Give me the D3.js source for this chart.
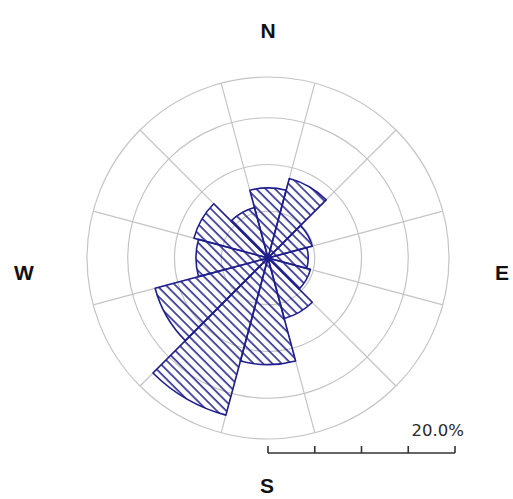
<!DOCTYPE html>
<html>
<head>
<meta charset="utf-8">
<script src="https://cdn.jsdelivr.net/npm/d3@7"></script>
<style>
  html, body { margin: 0; padding: 0; background: #ffffff; }
  svg { display: block; }
</style>
</head>
<body>
<div id="chart"></div>
<script>
// Direction sectors (degrees clockwise from north) and frequency (%)
const directions = [0, 30, 60, 90, 120, 150, 180, 210, 240, 270, 300, 330];
const frequencies = [7.5, 8.8, 4.9, 4.3, 4.7, 6.7, 11.4, 17.4, 12.5, 7.7, 8.2, 5.6];
const ringValues = [5, 10, 15];
const scaleTicks = [0, 5, 10, 15, 20];
const scaleLabel = "20.0%";
const compassLabels = ["N", "E", "S", "W"];

const width = 513, height = 499;
const cx = 268, cy = 258;
const frameRadius = 181;
const sectorWidth = 30;
const navy = "#1e1e8c";
const gridColor = "#c4c4c4";

const svg = d3.select("#chart").append("svg")
  .attr("width", width).attr("height", height);

const r = d3.scaleLinear().domain([0, 20]).range([0, 187]);
const toRad = d => d * Math.PI / 180;

// hatch pattern
const defs = svg.append("defs");
const pat = defs.append("pattern")
  .attr("id", "hatch")
  .attr("patternUnits", "userSpaceOnUse")
  .attr("width", 6.6).attr("height", 10)
  .attr("patternTransform", "rotate(-45)");
pat.append("line")
  .attr("x1", 1).attr("y1", 0).attr("x2", 1).attr("y2", 10)
  .attr("stroke", navy).attr("stroke-width", 1.5);

const g = svg.append("g").attr("transform", `translate(${cx},${cy})`);

// grid rings
g.selectAll("circle.ring").data(ringValues).join("circle")
  .attr("class", "ring")
  .attr("r", d => r(d))
  .attr("fill", "none").attr("stroke", gridColor).attr("stroke-width", 1.2);
g.append("circle").attr("r", frameRadius)
  .attr("fill", "none").attr("stroke", gridColor).attr("stroke-width", 1.2);

// spokes at sector boundaries
const spokeAngles = directions.map(d => d + sectorWidth / 2);
g.selectAll("line.spoke").data(spokeAngles).join("line")
  .attr("class", "spoke")
  .attr("x1", d => r(ringValues[0]) * Math.sin(toRad(d)))
  .attr("y1", d => -r(ringValues[0]) * Math.cos(toRad(d)))
  .attr("x2", d => frameRadius * Math.sin(toRad(d)))
  .attr("y2", d => -frameRadius * Math.cos(toRad(d)))
  .attr("stroke", gridColor).attr("stroke-width", 1.2);

// bars
const arc = d3.arc()
  .innerRadius(0)
  .outerRadius(d => r(d.v))
  .startAngle(d => toRad(d.dir - sectorWidth / 2))
  .endAngle(d => toRad(d.dir + sectorWidth / 2));

const bars = directions.map((dir, i) => ({ dir, v: frequencies[i] }));
g.selectAll("path.bar").data(bars).join("path")
  .attr("class", "bar")
  .attr("d", arc)
  .attr("fill", "url(#hatch)")
  .attr("stroke", navy).attr("stroke-width", 1.6)
  .attr("stroke-linejoin", "round");

g.append("circle").attr("r", 3.2).attr("fill", navy);

// compass labels
const labelPos = {
  N: [268, 38], E: [502, 280], S: [267, 493], W: [24, 280]
};
svg.selectAll("text.compass").data(compassLabels).join("text")
  .attr("class", "compass")
  .attr("x", d => labelPos[d][0])
  .attr("y", d => labelPos[d][1])
  .attr("text-anchor", "middle")
  .attr("font-family", "Liberation Sans, Arial, sans-serif")
  .attr("font-weight", "bold")
  .attr("font-size", 21)
  .attr("fill", "#111")
  .text(d => d);

// scale bar
const sb = svg.append("g").attr("transform", `translate(${cx},453)`);
sb.append("line")
  .attr("x1", r(scaleTicks[0])).attr("x2", r(scaleTicks[scaleTicks.length - 1]))
  .attr("y1", 0).attr("y2", 0)
  .attr("stroke", "#333").attr("stroke-width", 1.6);
sb.selectAll("line.tick").data(scaleTicks).join("line")
  .attr("class", "tick")
  .attr("x1", d => r(d)).attr("x2", d => r(d))
  .attr("y1", 0).attr("y2", -7)
  .attr("stroke", "#333").attr("stroke-width", 1.6);
sb.append("text")
  .attr("x", r(scaleTicks[scaleTicks.length - 1]) + 9)
  .attr("y", -17)
  .attr("text-anchor", "end")
  .attr("font-family", "DejaVu Sans, Verdana, sans-serif")
  .attr("font-size", 16.5)
  .attr("fill", "#2a2a2a")
  .text(scaleLabel);
</script>
</body>
</html>
